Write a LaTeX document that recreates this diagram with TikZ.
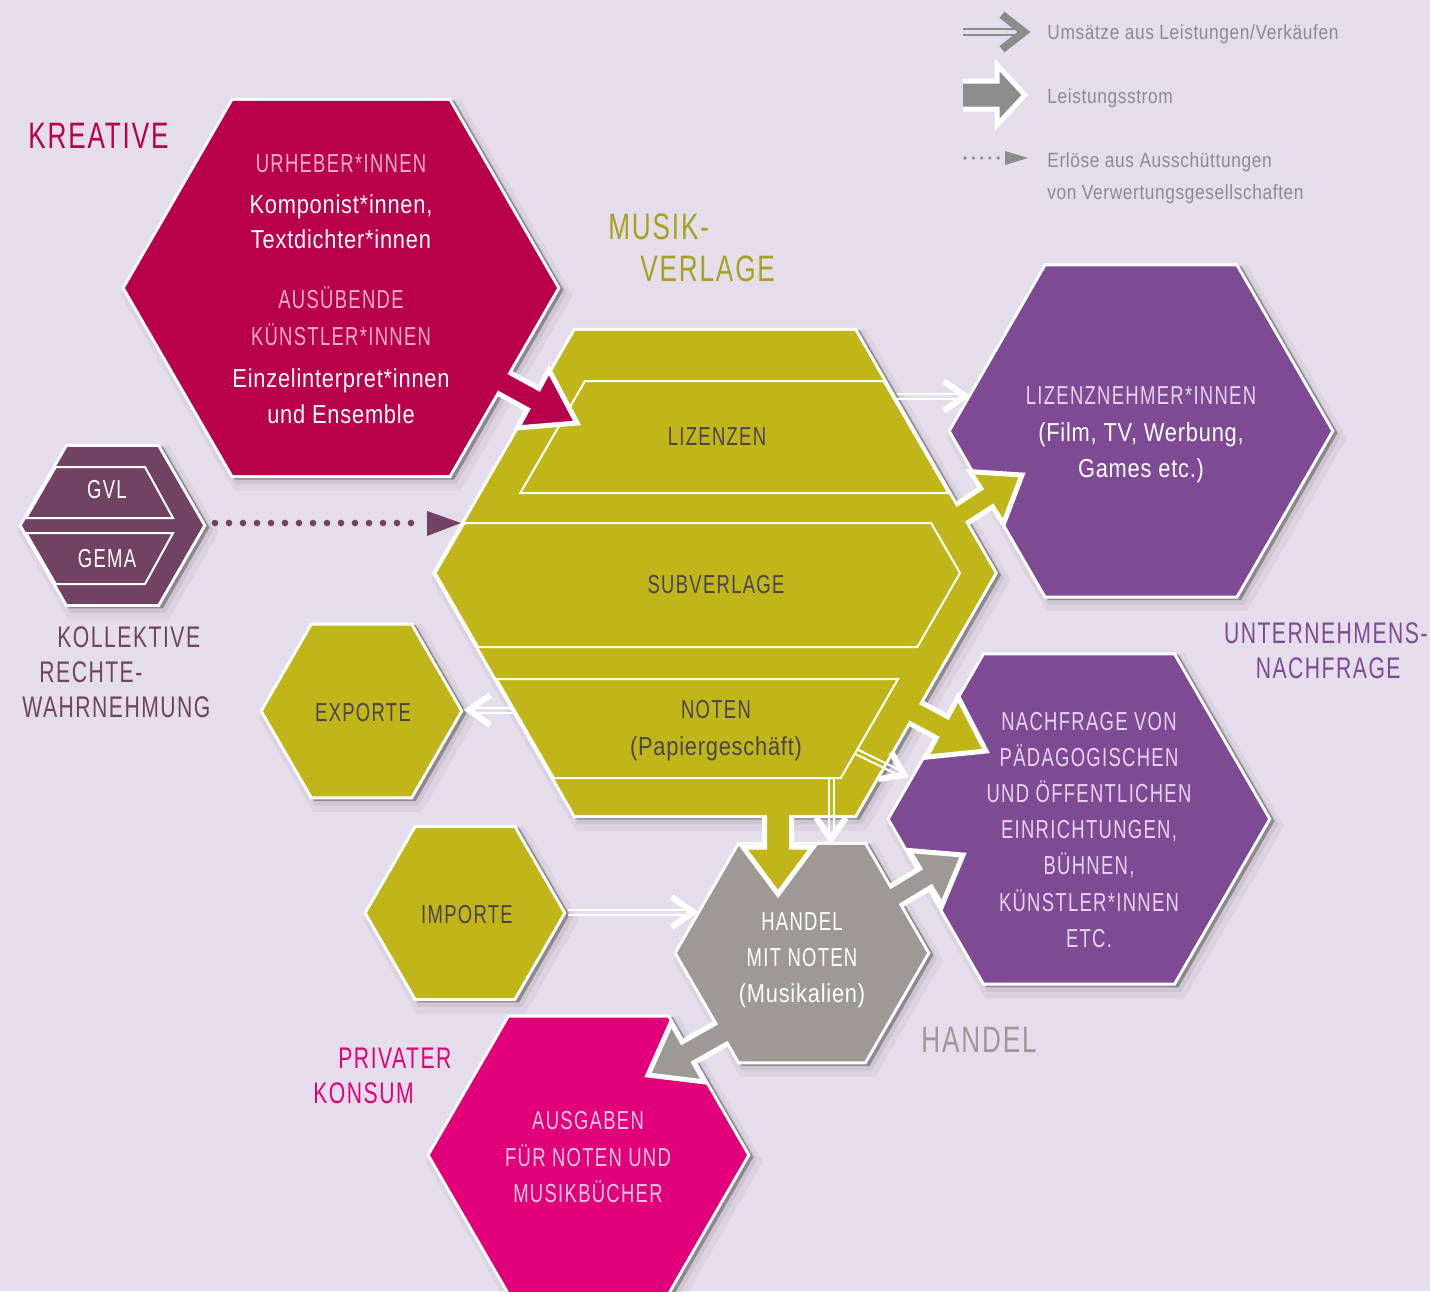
\documentclass[tikz,border=0pt]{standalone}
\usepackage{fontspec}
\setmainfont{Liberation Sans}[FakeStretch=0.84,LetterSpace=3]
\newfontfamily\capsf{Liberation Sans}[FakeStretch=0.71,LetterSpace=5]
\usetikzlibrary{calc}

\definecolor{bg}{HTML}{E4DDEB}
\definecolor{crim}{HTML}{B9004B}
\definecolor{olv}{HTML}{C0B61A}
\definecolor{olvlab}{HTML}{A9A11E}
\definecolor{purp}{HTML}{7E4A93}
\definecolor{plum}{HTML}{714262}
\definecolor{hgray}{HTML}{9D9995}
\definecolor{mag}{HTML}{E2007A}
\definecolor{dtext}{HTML}{4A4451}
\definecolor{lgray}{HTML}{8C8C8C}
\definecolor{shd}{HTML}{8C898F}
\definecolor{pinktx}{HTML}{F0AECB}
\definecolor{lavtx}{HTML}{E4D5EE}
\definecolor{magtx}{HTML}{F9C6DF}

\newcommand\hexp[3]{({(#1)-0.5*(#3)},{(#2)-0.8660254*(#3)}) -- ({(#1)+0.5*(#3)},{(#2)-0.8660254*(#3)}) -- ({(#1)+(#3)},{#2}) -- ({(#1)+0.5*(#3)},{(#2)+0.8660254*(#3)}) -- ({(#1)-0.5*(#3)},{(#2)+0.8660254*(#3)}) -- ({(#1)-(#3)},{#2}) -- cycle}
\newcommand\hexshadow[3]{%
  \fill[black,opacity=0.045,xshift=3pt,yshift=-3.5pt] \hexp{#1}{#2}{#3+10};
  \fill[black,opacity=0.06,xshift=2.5pt,yshift=-2.5pt] \hexp{#1}{#2}{#3+5};
  \fill[shd,xshift=1.75pt,yshift=-1pt] \hexp{#1}{#2}{#3+3};}
\newcommand\hexline[3]{\draw[white,line width=3pt,line join=miter] \hexp{#1}{#2}{#3};}
\newcommand\hexfill[4]{\fill[#4] \hexp{#1}{#2}{#3};}
\newcommand\blockarr[6]{%
  \coordinate (bah) at ($(#3)!#6!(#2)$);
  \filldraw[#1,draw=white,line width=2.5pt,line join=miter] ($(#2)!#4!90:(#3)$) -- ($(bah)!#4!90:(#3)$) -- ($(bah)!#5!90:(#3)$) -- (#3) -- ($(bah)!#5!-90:(#3)$) -- ($(bah)!#4!-90:(#3)$) -- ($(#2)!#4!-90:(#3)$) -- cycle;}
% #1 color, #2 from, #3 to, #4 line offset, #5 line width, #6 chevron width, #7 arm, #8 angle
\newcommand\dblarr[8]{%
  \coordinate (dae) at ($(#3)!2pt!(#2)$);
  \draw[#1,line width=#5] ($(#2)!#4!90:(#3)$) -- ($(dae)!#4!-90:(#2)$);
  \draw[#1,line width=#5] ($(#2)!#4!-90:(#3)$) -- ($(dae)!#4!90:(#2)$);
  \draw[#1,line width=#6,line join=miter] ($(#3)!#7!#8:(#2)$) -- (#3) -- ($(#3)!#7!-#8:(#2)$);}
\newcommand\tnode[6]{\node[#1,anchor=#2,inner sep=0pt] (#3) at (#4,#5) {#6};}

\tikzset{
  txc/.style={font=\capsf\fontsize{13}{15}\selectfont},
  txm/.style={font=\fontsize{13}{15}\selectfont},
  lbig/.style={font=\capsf\fontsize{18.4}{21}\selectfont},
  lsm/.style={font=\capsf\fontsize{14.9}{17}\selectfont},
  legtx/.style={font=\fontsize{10.3}{12}\selectfont,text=lgray},
  bandline/.style={draw=white,line width=1pt,line join=miter}
}

\begin{document}
\begin{tikzpicture}[x=0.5pt,y=-0.5pt]
\useasboundingbox (0,0) rectangle (1430,1291);
\clip (0,0) rectangle (1430,1291);
\fill[bg] (0,0) rectangle (1430,1291);

% ---------- plain hexagons
\hexshadow{1141}{431}{190}\hexline{1141}{431}{190}\hexfill{1141}{431}{190}{purp}
\hexshadow{1079}{819}{189}\hexline{1079}{819}{189}\hexfill{1079}{819}{189}{purp}
\hexshadow{361.5}{711}{98.5}\hexline{361.5}{711}{98.5}\hexfill{361.5}{711}{98.5}{olv}
\hexshadow{465}{913}{98}\hexline{465}{913}{98}\hexfill{465}{913}{98}{olv}
\hexshadow{588.5}{1155}{158.5}\hexline{588.5}{1155}{158.5}\hexfill{588.5}{1155}{158.5}{mag}
% GVL / GEMA
\hexshadow{112.5}{525.5}{90.5}\hexline{112.5}{525.5}{90.5}\hexfill{112.5}{525.5}{90.5}{plum}
\filldraw[fill=plum,bandline] (55.8,467) -- (145,467) -- (173,518) -- (26.3,518) -- cycle;
\filldraw[fill=plum,bandline] (26.3,533) -- (173,533) -- (145,584) -- (55.8,584) -- cycle;

% ---------- HANDEL with outgoing arrows
\hexshadow{802}{953}{125}\hexline{802}{953}{125}
\coordinate (hnA) at (838,931); \coordinate (hnB) at (963,855);
\blockarr{fill=hgray}{hnA}{hnB}{5.5pt}{16pt}{22pt}
\coordinate (haA) at (775,1003); \coordinate (haB) at (648,1075);
\blockarr{fill=hgray}{haA}{haB}{6pt}{17pt}{23pt}
\hexfill{802}{953}{125}{hgray}

% ---------- MUSIKVERLAGE with outgoing arrows
\hexshadow{715}{573}{279.5}\hexline{715}{573}{279.5}
\coordinate (vlA) at (899,554); \coordinate (vlB) at (1022,475);
\blockarr{fill=olv}{vlA}{vlB}{5.5pt}{15.5pt}{21pt}
\coordinate (vnA) at (849,677); \coordinate (vnB) at (986,751);
\blockarr{fill=olv}{vnA}{vnB}{6pt}{17pt}{25pt}
\coordinate (vhA) at (778,760); \coordinate (vhB) at (778,894);
\blockarr{fill=olv}{vhA}{vhB}{6.75pt}{17.5pt}{23.5pt}
\hexfill{715}{573}{279.5}{olv}
\filldraw[fill=olv,bandline] (585,381) -- (883.6,381) -- (948.3,493) -- (520.3,493) -- cycle;
\filldraw[fill=olv,bandline] (464.4,523) -- (931.1,523) -- (960,573) -- (917.3,647) -- (478.2,647) -- (435.5,573) -- cycle;
\filldraw[fill=olv,bandline] (496.7,679) -- (898,679) -- (840.8,778) -- (553.9,778) -- cycle;

% ---------- KREATIVE with outgoing arrow
\hexshadow{341}{288}{216}\hexline{341}{288}{216}
\coordinate (kvA) at (431,343); \coordinate (kvB) at (577,423);
\blockarr{fill=crim}{kvA}{kvB}{6pt}{16.5pt}{25pt}
\hexfill{341}{288}{216}{crim}

% ---------- thin double arrows
\coordinate (lzA) at (897,396); \coordinate (lzB) at (965,396);
\dblarr{white}{lzA}{lzB}{1.25pt}{1pt}{3pt}{13pt}{35}
\coordinate (exA) at (513,710); \coordinate (exB) at (469,710);
\dblarr{white}{exA}{exB}{1.25pt}{1pt}{3pt}{13pt}{35}
\coordinate (imA) at (568,912); \coordinate (imB) at (693,912);
\dblarr{white}{imA}{imB}{1.25pt}{1pt}{3pt}{13pt}{35}
\coordinate (nhA) at (831,779); \coordinate (nhB) at (831,839);
\dblarr{white}{nhA}{nhB}{1.25pt}{1pt}{3pt}{13pt}{35}
\coordinate (nnA) at (857,752); \coordinate (nnB) at (904,775);
\dblarr{white}{nnA}{nnB}{1.25pt}{1pt}{3pt}{13pt}{35}

% ---------- dotted arrow GVL -> Verlag
\coordinate (dotA) at (215,523); \coordinate (dotB) at (461,523);
\foreach \i in {0,...,14} \fill[plum] ($(dotA)+(14*\i,0)$) circle (1.65pt);
\fill[plum] ($(dotB)+(-34,-12)$) -- (dotB) -- ($(dotB)+(-34,13)$) -- cycle;

% ---------- legend
\coordinate (lg1A) at (963,32); \coordinate (lg1B) at (1024,32);
\dblarr{lgray}{lg1A}{lg1B}{1.5pt}{1.25pt}{4pt}{14pt}{38}
\begin{scope}
\clip (963,50) rectangle (1045,140);
\coordinate (lg2A) at (950,95); \coordinate (lg2B) at (1025,95);
\blockarr{fill=lgray}{lg2A}{lg2B}{7pt}{15pt}{14pt}
\end{scope}
\coordinate (lg3A) at (965,158); \coordinate (lg3B) at (1028,158);
\foreach \i in {0,...,4} \fill[lgray] ($(lg3A)+(8.3*\i,0)$) circle (0.9pt);
\fill[lgray] ($(lg3B)+(-23,-7)$) -- (lg3B) -- ($(lg3B)+(-23,7)$) -- cycle;
\tnode{legtx}{base west}{lt1}{1047}{39}{Umsätze aus Leistungen/Verkäufen}
\tnode{legtx}{base west}{lt2}{1047}{103}{Leistungsstrom}
\tnode{legtx}{base west}{lt3}{1047}{167}{Erlöse aus Ausschüttungen}
\tnode{legtx}{base west}{lt4}{1047}{199}{von Verwertungsgesellschaften}

% ---------- group labels
\tnode{lbig,text=crim}{base west}{labK}{28}{148}{KREATIVE}
\tnode{lbig,text=olvlab}{base west}{labM1}{608}{239}{MUSIK-}
\tnode{lbig,text=olvlab}{base west}{labM2}{640}{281}{VERLAGE}
\tnode{lsm,text=plum}{base west}{labG1}{57}{647}{KOLLEKTIVE}
\tnode{lsm,text=plum}{base west}{labG2}{39}{682}{RECHTE-}
\tnode{lsm,text=plum}{base west}{labG3}{22}{717}{WAHRNEHMUNG}
\tnode{lsm,text=purp}{base east}{labU1}{1428}{643}{UNTERNEHMENS-}
\tnode{lsm,text=purp}{base east}{labU2}{1401}{678}{NACHFRAGE}
\tnode{lbig,text=hgray}{base west}{labH}{921}{1052}{HANDEL}
\tnode{lsm,text=mag}{base west}{labP1}{338}{1068}{PRIVATER}
\tnode{lsm,text=mag}{base west}{labP2}{313}{1103}{KONSUM}

% ---------- texts in hexagons
\tnode{txc,text=pinktx}{base}{k1}{341}{172}{URHEBER*INNEN}
\tnode{txm,text=white}{base}{k2}{341}{213}{Komponist*innen,}
\tnode{txm,text=white}{base}{k3}{341}{248}{Textdichter*innen}
\tnode{txc,text=pinktx}{base}{k4}{341}{308}{AUSÜBENDE}
\tnode{txc,text=pinktx}{base}{k5}{341}{345}{KÜNSTLER*INNEN}
\tnode{txm,text=white}{base}{k6}{341}{387}{Einzelinterpret*innen}
\tnode{txm,text=white}{base}{k7}{341}{423}{und Ensemble}

\tnode{txc,text=white}{base}{gvl}{107}{498}{GVL}
\tnode{txc,text=white}{base}{gema}{107}{567}{GEMA}

\tnode{txc,text=dtext}{base}{liz}{717}{445}{LIZENZEN}
\tnode{txc,text=dtext}{base}{subv}{716}{593}{SUBVERLAGE}
\tnode{txc,text=dtext}{base}{noten}{716}{718}{NOTEN}
\tnode{txm,text=dtext}{base}{papier}{716}{755}{(Papiergeschäft)}

\tnode{txc,text=dtext}{base}{exp}{363}{721}{EXPORTE}
\tnode{txc,text=dtext}{base}{imp}{467}{923}{IMPORTE}

\tnode{txc,text=lavtx}{base}{ln1}{1141}{404}{LIZENZNEHMER*INNEN}
\tnode{txm,text=white}{base}{ln2}{1141}{441}{(Film, TV, Werbung,}
\tnode{txm,text=white}{base}{ln3}{1141}{477}{Games etc.)}

\tnode{txc,text=lavtx}{base}{nf1}{1089}{730}{NACHFRAGE VON}
\tnode{txc,text=lavtx}{base}{nf2}{1089}{766}{PÄDAGOGISCHEN}
\tnode{txc,text=lavtx}{base}{nf3}{1089}{802}{UND ÖFFENTLICHEN}
\tnode{txc,text=lavtx}{base}{nf4}{1089}{838}{EINRICHTUNGEN,}
\tnode{txc,text=lavtx}{base}{nf5}{1089}{874}{BÜHNEN,}
\tnode{txc,text=lavtx}{base}{nf6}{1089}{911}{KÜNSTLER*INNEN}
\tnode{txc,text=lavtx}{base}{nf7}{1089}{947}{ETC.}

\tnode{txc,text=white}{base}{hd1}{802}{930}{HANDEL}
\tnode{txc,text=white}{base}{hd2}{802}{966}{MIT NOTEN}
\tnode{txm,text=white}{base}{hd3}{802}{1002}{(Musikalien)}

\tnode{txc,text=magtx}{base}{au1}{588}{1129}{AUSGABEN}
\tnode{txc,text=magtx}{base}{au2}{588}{1166}{FÜR NOTEN UND}
\tnode{txc,text=magtx}{base}{au3}{588}{1202}{MUSIKBÜCHER}
\end{tikzpicture}
\end{document}
